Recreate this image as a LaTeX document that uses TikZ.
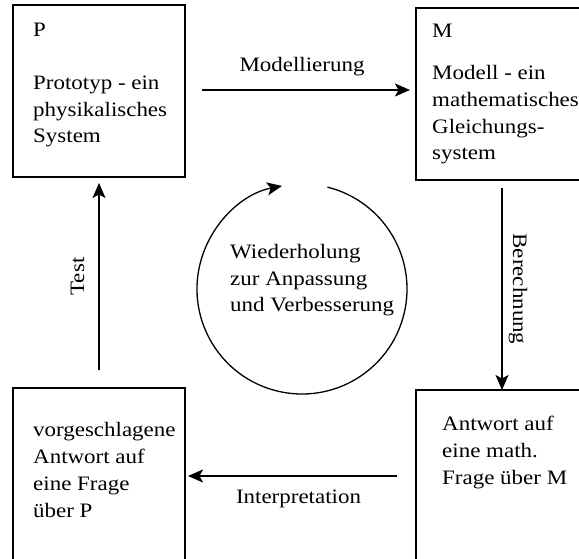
\documentclass[tikz,border=0pt]{standalone}
\usepackage{fontspec}
\setmainfont{Liberation Serif}[FakeStretch=1.12]
\usetikzlibrary{arrows.meta}

\begin{document}
\begin{tikzpicture}[x=1pt, y=-1pt,
    kasten/.style={draw, line width=1.6pt, minimum width=172pt, minimum height=172pt, inner sep=0pt, outer sep=0pt},
    schrift/.style={font=\fontsize{20.5}{26.8}\selectfont, inner sep=0pt, align=left},
    pfeil/.style={-{Stealth[length=15pt, width=13pt, inset=3.5pt]}, line width=1.3pt}]
  \useasboundingbox (0,0) rectangle (579,559);
  \clip (0,0) rectangle (579,559);

  % Die vier Kaesten (rechts und unten abgeschnitten)
  \node[kasten] (P) at (99,91) {};
  \node[kasten] (M) at (502,94) {};
  \node[kasten] (V) at (99,474) {};
  \node[kasten] (A) at (502,476) {};

  % Texte in den Kaesten (base = Grundlinie der letzten Zeile)
  \node[schrift, anchor=base west] (Ptitel) at ([xshift=20pt, yshift=-32pt]P.north west) {P};
  \node[schrift, anchor=base west] (Ptext) at ([xshift=20pt, yshift=-138pt]P.north west) {Prototyp - ein\\physikalisches\\System};
  \node[schrift, anchor=base west] (Mtitel) at ([xshift=16pt, yshift=-30pt]M.north west) {M};
  \node[schrift, anchor=base west] (Mtext) at ([xshift=16pt, yshift=-152pt]M.north west) {Modell - ein\\mathematisches\\Gleichungs-\\system};
  \node[schrift, anchor=base west] (Vtext) at ([xshift=20pt, yshift=-129pt]V.north west) {vorgeschlagene\\Antwort auf\\eine Frage\\über P};
  \node[schrift, anchor=base west] (Atext) at ([xshift=26pt, yshift=-94pt]A.north west) {Antwort auf\\eine math.\\Frage über M};

  % Pfeile zwischen den Kaesten
  \draw[pfeil] ([xshift=17pt, yshift=1pt]P.east) -- node[schrift, anchor=base, yshift=18pt, xshift=-4pt] (modl) {Modellierung} ([xshift=-6pt, yshift=4pt]M.west);
  \draw[pfeil] ([yshift=-8pt]M.south) -- node[schrift, anchor=base, xshift=11pt, rotate=-90] (ber) {Berechnung} (A.north);
  \draw[pfeil] ([xshift=-19pt]A.west) -- node[schrift, anchor=base, yshift=-27pt, xshift=6pt] (interp) {Interpretation} ([xshift=3pt, yshift=-2pt]V.east);
  \draw[pfeil] ([yshift=18pt]V.north) -- node[schrift, anchor=base, xshift=-15pt, rotate=90] (test) {Test} ([yshift=-6pt]P.south);

  % Kreislauf in der Mitte
  \coordinate (kreis) at (302,289);
  \draw[pfeil] (kreis) ++(-76:105) arc[start angle=-76, end angle=259, radius=105];
  \node[schrift, anchor=base west] (wdh) at (230,312) {Wiederholung\\zur Anpassung\\und Verbesserung};
\end{tikzpicture}
\end{document}
